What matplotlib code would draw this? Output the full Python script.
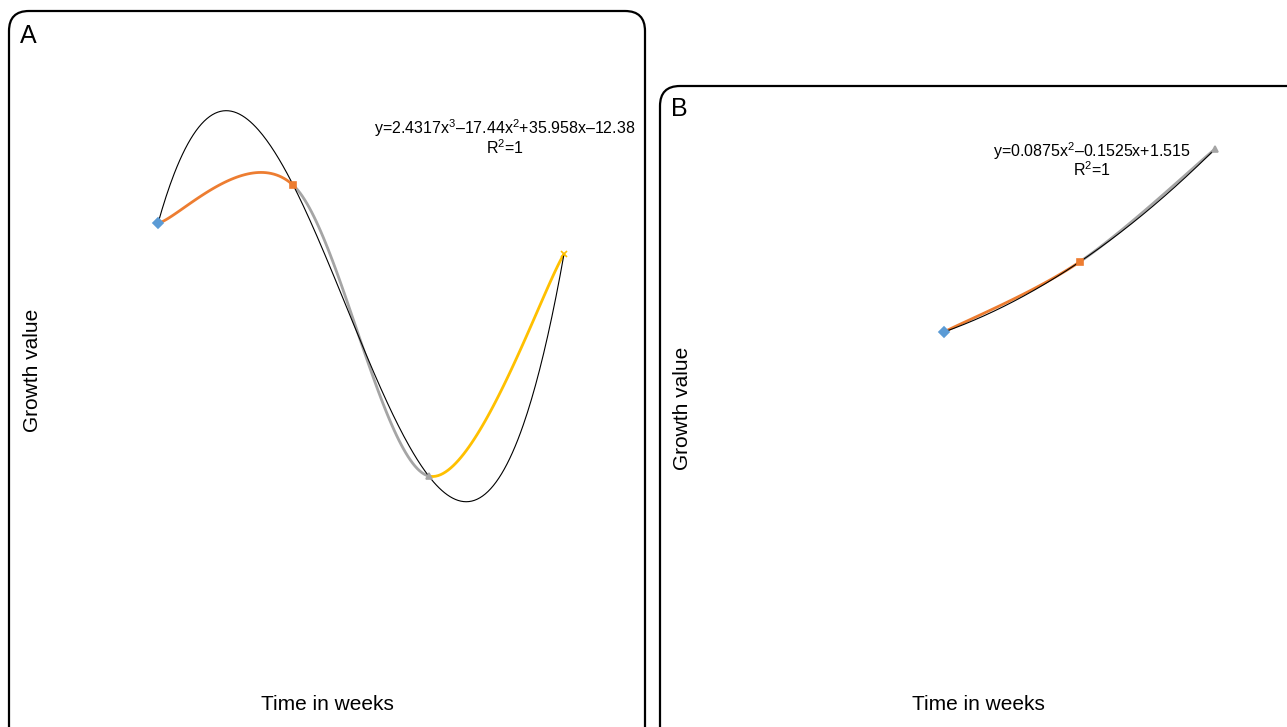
import numpy as np
import matplotlib
matplotlib.use("Agg")
import matplotlib.pyplot as plt
from matplotlib.patches import FancyBboxPatch

plt.rcParams['font.family'] = ['Liberation Sans', 'DejaVu Sans']
plt.rcParams['mathtext.fontset'] = 'custom'
plt.rcParams['mathtext.rm'] = 'Liberation Sans'
plt.rcParams['mathtext.it'] = 'Liberation Sans'

# panel A data
weeks_a = [1, 2, 3, 4]
growth_a = [8.57, 9.23, 4.19, 8.04]
eq_a = 'y=2.4317x$^{3}$\u201317.44x$^{2}$+35.958x\u201312.38'

# panel B data
weeks_b = [2, 3, 4]
growth_b = [1.56, 1.845, 2.305]
eq_b = 'y=0.0875x$^{2}$\u20130.1525x+1.515'

point_colors = ['#5B9BD5', '#ED7D31', '#A5A5A5', '#FFC000']
point_markers = ['D', 's', '^', 'x']


def smooth_segment(xs, ys, i, n=60):
    # excel-like smoothed line (catmull-rom as cubic bezier)
    p = np.column_stack([xs, ys]).astype(float)
    p0 = p[max(i - 1, 0)]
    p1 = p[i]
    p2 = p[i + 1]
    p3 = p[min(i + 2, len(p) - 1)]
    c1 = p1 + (p2 - p0) / 6
    c2 = p2 - (p3 - p1) / 6
    t = np.linspace(0, 1, n)[:, None]
    pts = ((1 - t)**3 * p1 + 3 * (1 - t)**2 * t * c1 +
           3 * (1 - t) * t**2 * c2 + t**3 * p2)
    return pts[:, 0], pts[:, 1]


def draw_panel(ax, xs, ys, deg):
    for i in range(len(xs) - 1):
        sx, sy = smooth_segment(xs, ys, i)
        ax.plot(sx, sy, color=point_colors[i + 1], lw=2.0,
                solid_capstyle='round', zorder=2)
    coef = np.polyfit(xs, ys, deg)
    tx = np.linspace(xs[0], xs[-1], 300)
    ax.plot(tx, np.polyval(coef, tx), color='black', lw=0.8, zorder=3)
    for i in range(len(xs)):
        ax.plot(xs[i], ys[i], marker=point_markers[i],
                color=point_colors[i], ms=5, mew=1.2, zorder=4)
    ax.axis('off')


fig = plt.figure(figsize=(12.87, 7.27), dpi=100)
W, H = 1287, 727

# rounded panel frames
fig.patches.append(FancyBboxPatch((0.09, -0.2), 6.36, 7.36,
                                  boxstyle='round,pad=0,rounding_size=0.2',
                                  transform=fig.dpi_scale_trans,
                                  fc='none', ec='black', lw=1.6))
fig.patches.append(FancyBboxPatch((6.60, -0.2), 6.6, 6.61,
                                  boxstyle='round,pad=0,rounding_size=0.2',
                                  transform=fig.dpi_scale_trans,
                                  fc='none', ec='black', lw=1.6))

ax_a = fig.add_axes([90.3 / W, (H - 690) / H, 541.4 / W, 650 / H])
draw_panel(ax_a, weeks_a, growth_a, 3)
ax_a.set_xlim(0.5, 4.5)
ax_a.set_ylim(0.48, 11.75)

ax_b = fig.add_axes([876.25 / W, (H - 690) / H, 406.5 / W, 580 / H])
draw_panel(ax_b, weeks_b, growth_b, 2)
ax_b.set_xlim(1.5, 4.5)
ax_b.set_ylim(0.102, 2.464)

# texts
fig.text(20 / W, 1 - 36 / H, 'A', fontsize=18, va='center', ha='left')
fig.text(671 / W, 1 - 109 / H, 'B', fontsize=18, va='center', ha='left')

fig.text(32 / W, 1 - 370 / H, 'Growth value', fontsize=15,
         rotation=90, va='center', ha='center')
fig.text(682 / W, 1 - 408 / H, 'Growth value', fontsize=15,
         rotation=90, va='center', ha='center')
fig.text(327 / W, 1 - 705 / H, 'Time in weeks', fontsize=15,
         va='center', ha='center')
fig.text(978 / W, 1 - 705 / H, 'Time in weeks', fontsize=15,
         va='center', ha='center')

fig.text(505 / W, 1 - 128 / H, eq_a, fontsize=11.5, va='center', ha='center')
fig.text(505 / W, 1 - 148 / H, 'R$^{2}$=1', fontsize=11.5,
         va='center', ha='center')
fig.text(1092 / W, 1 - 151 / H, eq_b, fontsize=11.5, va='center', ha='center')
fig.text(1092 / W, 1 - 170 / H, 'R$^{2}$=1', fontsize=11.5,
         va='center', ha='center')

fig.savefig('out.png', dpi=100)
